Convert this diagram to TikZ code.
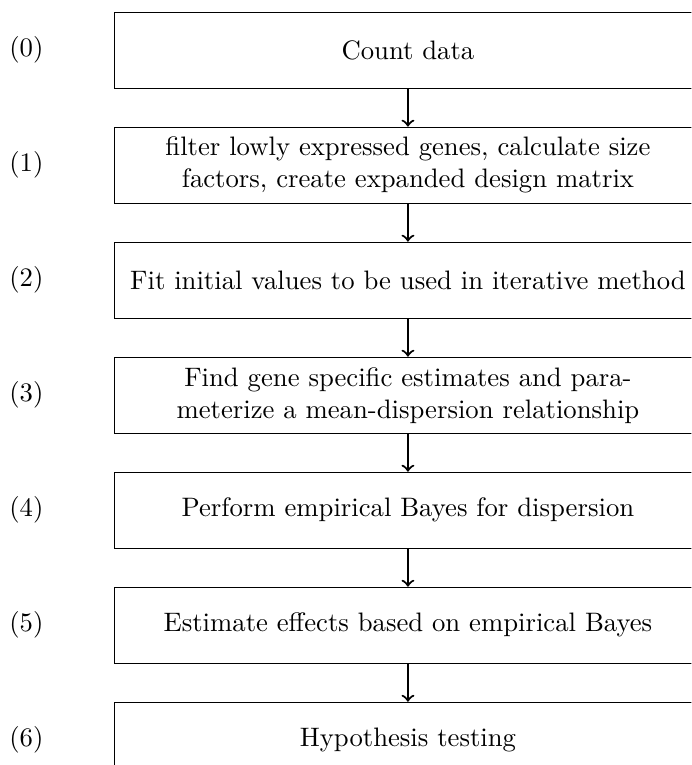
\documentclass[tikz,border=0pt]{standalone}
\usepackage{amsmath, amssymb}
\usepackage{tikz}
\usetikzlibrary{positioning}

\tikzset{
  stepbox/.style={draw, rectangle, text width=7.5cm, minimum height=1cm, align=center},
  steplabel/.style={left=0.8cm of #1},
  steparrow/.style={->, thick}
}

\begin{document}
\begin{tikzpicture}
  % page size
  \path[use as bounding box, clip] (0,0) rectangle (9.1,-10.07);

  % Steps
  \node[stepbox] (s0) at (5.37,-0.66) {Count data};
  \node[stepbox, below=0.5cm of s0] (s1) {filter lowly expressed genes, calculate size\\factors, create expanded design matrix};
  \node[stepbox, below=0.5cm of s1] (s2) {Fit initial values to be used in iterative method};
  \node[stepbox, below=0.5cm of s2] (s3) {Find gene specific estimates and para-\\meterize a mean-dispersion relationship};
  \node[stepbox, below=0.5cm of s3] (s4) {Perform empirical Bayes for dispersion};
  \node[stepbox, below=0.5cm of s4] (s5) {Estimate effects based on empirical Bayes};
  \node[stepbox, below=0.5cm of s5] (s6) {Hypothesis testing};

  % Step numbers
  \node[steplabel=s0] (n0) {(0)};
  \node[steplabel=s1] (n1) {(1)};
  \node[steplabel=s2] (n2) {(2)};
  \node[steplabel=s3] (n3) {(3)};
  \node[steplabel=s4] (n4) {(4)};
  \node[steplabel=s5] (n5) {(5)};
  \node[steplabel=s6] (n6) {(6)};

  % Arrows
  \draw[steparrow] (s0) -- (s1);
  \draw[steparrow] (s1) -- (s2);
  \draw[steparrow] (s2) -- (s3);
  \draw[steparrow] (s3) -- (s4);
  \draw[steparrow] (s4) -- (s5);
  \draw[steparrow] (s5) -- (s6);
\end{tikzpicture}
\end{document}
